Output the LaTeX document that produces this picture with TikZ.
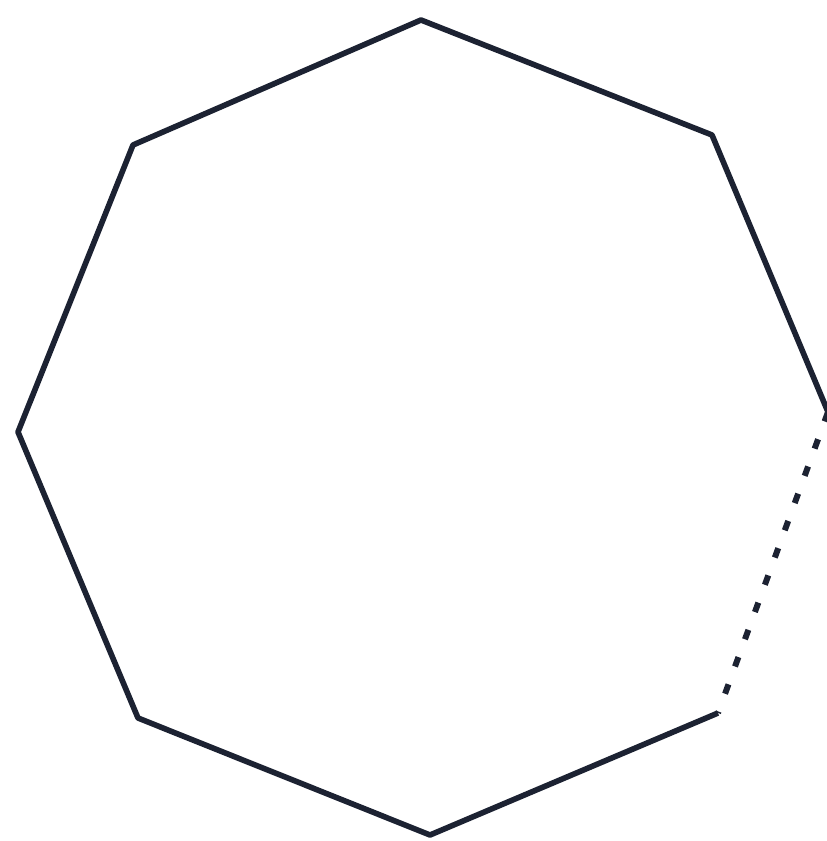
\documentclass[tikz,border=0pt]{standalone}
\usepackage{tikz}

\definecolor{inkdark}{RGB}{28,34,50}

\begin{document}
\begin{tikzpicture}[
        x=0.02cm, y=-0.02cm,
        edge/.style={draw=inkdark, line width=3.2pt, line join=round},
        hidden/.style={draw=inkdark, line width=3.4pt, dash pattern=on 0.2cm off 0.38cm}
    ]
    \useasboundingbox (0,0) rectangle (827,841);

    % corners of the octagon
    \coordinate (top) at (421,20);
    \coordinate (topright) at (712,135);
    \coordinate (right) at (828,412);
    \coordinate (bottomright) at (718,713);
    \coordinate (bottom) at (430,835);
    \coordinate (bottomleft) at (138,718);
    \coordinate (left) at (18,432);
    \coordinate (topleft) at (133,145);

    % solid sides
    \draw[edge] (right) -- (topright) -- (top) -- (topleft) -- (left)
        -- (bottomleft) -- (bottom) -- (bottomright);

    % dashed side
    \draw[hidden] (right) -- (bottomright);

\end{tikzpicture}
\end{document}
